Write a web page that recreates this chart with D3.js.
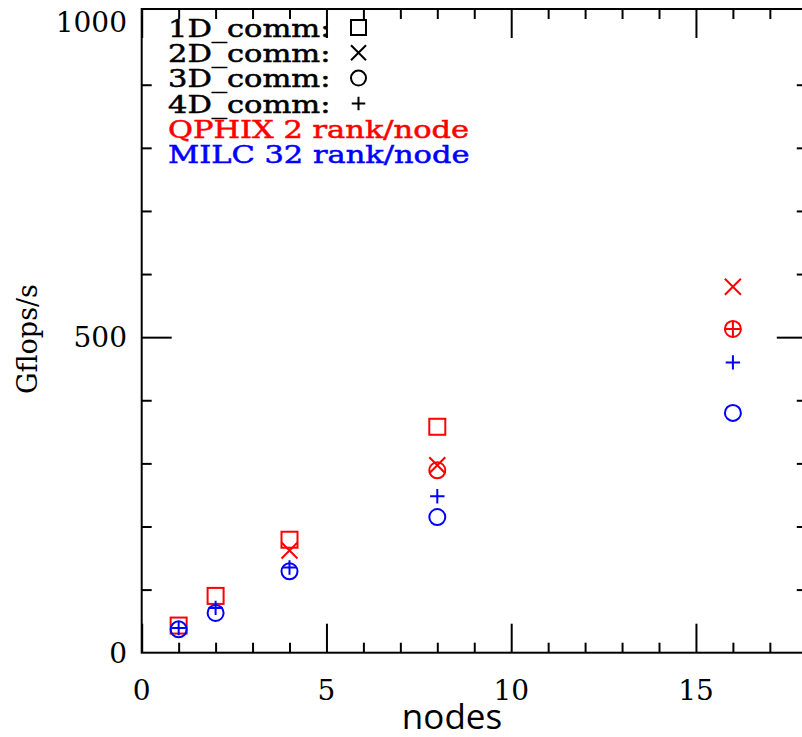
<!DOCTYPE html>
<html>
<head>
<meta charset="utf-8">
<script src="https://cdn.jsdelivr.net/npm/d3@7"></script>
<style>
  html, body { margin: 0; padding: 0; background: #fff; }
  svg { display: block; }
</style>
</head>
<body>
<svg id="chart" width="802" height="737"></svg>
<script>
// Node counts on the x axis
const nodes = [1, 2, 4, 8, 16];

// QPHIX, 2 rank/node (red); null = no point drawn
const qphix1D = [43, 90, 179, 358, null];
const qphix2D = [null, null, 162, 297, 580];
const qphix3D = [null, null, null, 289, 513];
const qphix4D = [null, null, null, null, 513];

// MILC, 32 rank/node (blue)
const milc3D = [37, 63, 129, 215, 380];
const milc4D = [39, 71, 135, 248, 460];

// Axis ticks and labels
const xMajor = [0, 5, 10, 15];
const xMinor = d3.range(0, 19);
const yMinor = [100, 200, 300, 400, 600, 700, 800, 900];
const yLabels = [0, 500, 1000];

// Legend entries
const legendComm = ["1D_comm:", "2D_comm:", "3D_comm:", "4D_comm:"];
const legendCommShape = ["square", "cross", "circle", "plus"];
const legendCodes = ["QPHIX 2 rank/node", "MILC 32 rank/node"];
const legendCodeColors = ["#ff0000", "#0000ff"];

const series = [
  { values: qphix1D, shape: "square", color: "#ff0000" },
  { values: qphix2D, shape: "cross", color: "#ff0000" },
  { values: qphix3D, shape: "circle", color: "#ff0000" },
  { values: qphix4D, shape: "plus", color: "#ff0000" },
  { values: milc3D, shape: "circle", color: "#0000ff" },
  { values: milc4D, shape: "plus", color: "#0000ff" }
];

const svg = d3.select("#chart");
const plotL = 141.7, plotR = 806.8, plotT = 9, plotB = 652.7;

const x = d3.scaleLinear().domain([0, 18]).range([plotL, plotR]);
const y = d3.scaleLinear().domain([0, 1020]).range([plotB, plotT]);

const serif = "'DejaVu Serif', serif";

// Frame
svg.append("rect")
  .attr("x", plotL).attr("y", plotT)
  .attr("width", plotR - plotL).attr("height", plotB - plotT)
  .attr("fill", "none").attr("stroke", "#000").attr("stroke-width", 2);

function ticks(axisFn, scale, values, size, transform) {
  const g = svg.append("g")
    .attr("transform", transform)
    .call(axisFn(scale).tickValues(values).tickSize(size).tickFormat(""));
  g.select(".domain").remove();
  g.selectAll(".tick line").attr("stroke", "#000").attr("stroke-width", 2);
  return g;
}

const xMinorOnly = xMinor.filter(v => !xMajor.includes(v));

// Bottom and top ticks (pointing inward)
ticks(d3.axisBottom, x, xMinorOnly, -10, `translate(0,${plotB})`);
ticks(d3.axisBottom, x, xMajor, -29, `translate(0,${plotB})`);
ticks(d3.axisTop, x, xMinorOnly, -10, `translate(0,${plotT})`);
ticks(d3.axisTop, x, xMajor, -29, `translate(0,${plotT})`);

// Left and right ticks (pointing inward)
ticks(d3.axisLeft, y, yMinor, -10, `translate(${plotL},0)`);
ticks(d3.axisLeft, y, [500], -30, `translate(${plotL},0)`);
ticks(d3.axisRight, y, yMinor, -10, `translate(${plotR},0)`);
ticks(d3.axisRight, y, [500], -30, `translate(${plotR},0)`);

// Tick labels
svg.append("g").selectAll("text").data(xMajor).join("text")
  .attr("x", d => x(d)).attr("y", 700)
  .attr("text-anchor", "middle")
  .attr("font-family", serif).attr("font-size", 28)
  .text(d => d);

svg.append("g").selectAll("text").data(yLabels).join("text")
  .attr("x", 127).attr("y", d => y(d) + 10)
  .attr("text-anchor", "end")
  .attr("font-family", serif).attr("font-size", 28)
  .text(d => d);

// Axis titles
svg.append("text")
  .attr("x", 452).attr("y", 729)
  .attr("text-anchor", "middle")
  .attr("font-family", "'Open Sans', sans-serif").attr("font-size", 35)
  .text("nodes");

svg.append("text")
  .attr("transform", "translate(37,339) rotate(-90)")
  .attr("text-anchor", "middle")
  .attr("font-family", serif).attr("font-size", 27)
  .text("Gflops/s");

// Marker drawing
function marker(g, shape, cx, cy, color, s) {
  const sw = 2;
  if (shape === "square") {
    g.append("rect").attr("x", cx - s).attr("y", cy - s)
      .attr("width", 2 * s).attr("height", 2 * s)
      .attr("fill", "none").attr("stroke", color).attr("stroke-width", sw);
  } else if (shape === "circle") {
    g.append("circle").attr("cx", cx).attr("cy", cy).attr("r", s)
      .attr("fill", "none").attr("stroke", color).attr("stroke-width", sw);
  } else if (shape === "cross") {
    g.append("path")
      .attr("d", `M${cx - s},${cy - s}L${cx + s},${cy + s}M${cx - s},${cy + s}L${cx + s},${cy - s}`)
      .attr("stroke", color).attr("stroke-width", sw).attr("fill", "none");
  } else if (shape === "plus") {
    const p = s * 0.9;
    g.append("path")
      .attr("d", `M${cx - p},${cy}L${cx + p},${cy}M${cx},${cy - p}L${cx},${cy + p}`)
      .attr("stroke", color).attr("stroke-width", sw).attr("fill", "none");
  }
}

// Data points
const pts = svg.append("g");
series.forEach(sr => {
  sr.values.forEach((v, i) => {
    if (v == null) return;
    marker(pts, sr.shape, x(nodes[i]), y(v), sr.color, 8);
  });
});

// Legend (wide, slightly heavy serif lettering)
const leg = svg.append("g");
const pitch = 25.3;
function legendText(t, row, color) {
  leg.append("text")
    .attr("transform", `translate(168,${36.7 + row * pitch}) scale(1.27,1)`)
    .attr("font-family", serif).attr("font-size", 24)
    .attr("fill", color).attr("stroke", color).attr("stroke-width", 0.5)
    .text(t);
}
legendComm.forEach((t, i) => {
  legendText(t, i, "#000");
  marker(leg, legendCommShape[i], 358.5, 27.5 + i * pitch, "#000", 7.5);
});
legendCodes.forEach((t, i) => legendText(t, i + 4, legendCodeColors[i]));
</script>
</body>
</html>
